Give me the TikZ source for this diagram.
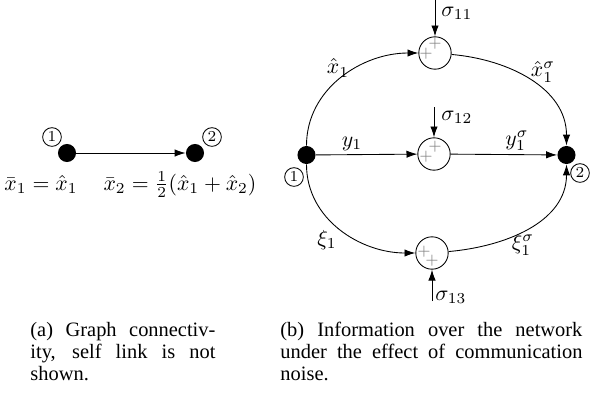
\documentclass[tikz,border=0pt]{standalone}
\usepackage{amsmath, amssymb}
\usepackage[no-math]{fontspec}
\setmainfont{Liberation Serif}
\usepackage{tikz}
\usetikzlibrary{calc, positioning, arrows.meta}

\begin{document}
\begin{tikzpicture}[>={Latex[length=5pt, width=3.4pt]}, x=0.46pt, y=-0.46pt,
    vtx/.style={circle, fill, inner sep=0pt, minimum size=8.3pt},
    num/.style={circle, draw, inner sep=0pt, minimum size=8.6pt, font=\scriptsize},
    sumj/.style={circle, draw, inner sep=0pt, minimum size=14.9pt},
    pl/.style={inner sep=0pt, text=gray, font=\scriptsize},
    capt/.style={anchor=north west, inner sep=0pt, align=justify,
        font=\fontsize{9.4}{10.1}\selectfont}]
    \useasboundingbox (0,0) rectangle (590,392);

    % 1. Hình (a): hai nút
    \node[vtx] (a1) at (67,153) {};
    \node[vtx] (a2) at (195,153) {};
    \draw[->] (a1) -- (a2);
    \node[num] (na1) at (52,137) {$1$};
    \node[num] (na2) at (212,137) {$2$};
    \node[anchor=base] (la1) at (41,190) {$\bar{x}_1=\hat{x}_1$};
    \node[anchor=base] (la2) at (180,190) {$\bar{x}_2=\frac{1}{2}(\hat{x}_1+\hat{x}_2)$};

    % 2. Hình (b): nút và bộ cộng
    \node[vtx] (n1) at (306.5,155) {};
    \node[vtx] (n2) at (566.5,155) {};
    \node[num] (nb1) at (294,177) {$1$};
    \node[num] (nb2) at (580,173) {$2$};
    \node[sumj] (s11) at (435,53) {};
    \node[sumj] (s12) at (434,154) {};
    \node[sumj] (s13) at (432,253) {};
    \foreach \s/\ax/\ay/\bx/\by in {s11/0/-9/-9/1, s12/1/-7/-8/3, s13/-8/-1/0/8} {
        \node[pl] (\s-a) at ($(\s)+(\ax,\ay)$) {$+$};
        \node[pl] (\s-b) at ($(\s)+(\bx,\by)$) {$+$};
    }

    % 3. Các cung
    \draw[->] (n1) to[out=90, in=180] (s11);
    \draw[->] (s11) to[out=-5, in=90] (n2);
    \draw[->] (n1) -- (s12);
    \draw[->] (s12) -- (n2);
    \draw[->] (n1) to[out=-90, in=180] (s13);
    \draw[->] (s13) to[out=5, in=-90] (n2);

    % 4. Nhiễu
    \coordinate (t11) at (435,0);
    \coordinate (t12) at (434,107);
    \coordinate (t13) at (432,301);
    \draw[->] (t11) -- (s11);
    \draw[->] (t12) -- (s12);
    \draw[->] (t13) -- (s13);
    \node[anchor=west, inner sep=0pt] (l11) at (441,13) {$\sigma_{11}$};
    \node[anchor=west, inner sep=0pt] (l12) at (441,117) {$\sigma_{12}$};
    \node[anchor=west, inner sep=0pt] (l13) at (435,297) {$\sigma_{13}$};

    % 5. Nhãn
    \node (lx1) at (338,68) {$\hat{x}_1$};
    \node (lx1s) at (543,72) {$\hat{x}_1^{\sigma}$};
    \node (ly1) at (352,144) {$y_1$};
    \node (ly1s) at (517,141) {$y_1^{\sigma}$};
    \node (lxi1) at (327,240) {$\xi_1$};
    \node (lxi1s) at (523,245) {$\xi_1^{\sigma}$};

    % 6. Chú thích
    \node[capt, text width=185*0.46pt] (ca) at (30,322)
        {(a) Graph connectiv-\linebreak ity, self link is not\linebreak shown.};
    \node[capt, text width=302*0.46pt] (cb) at (280,322)
        {(b) Information over the network\linebreak under the effect of communication\linebreak noise.};
\end{tikzpicture}
\end{document}
